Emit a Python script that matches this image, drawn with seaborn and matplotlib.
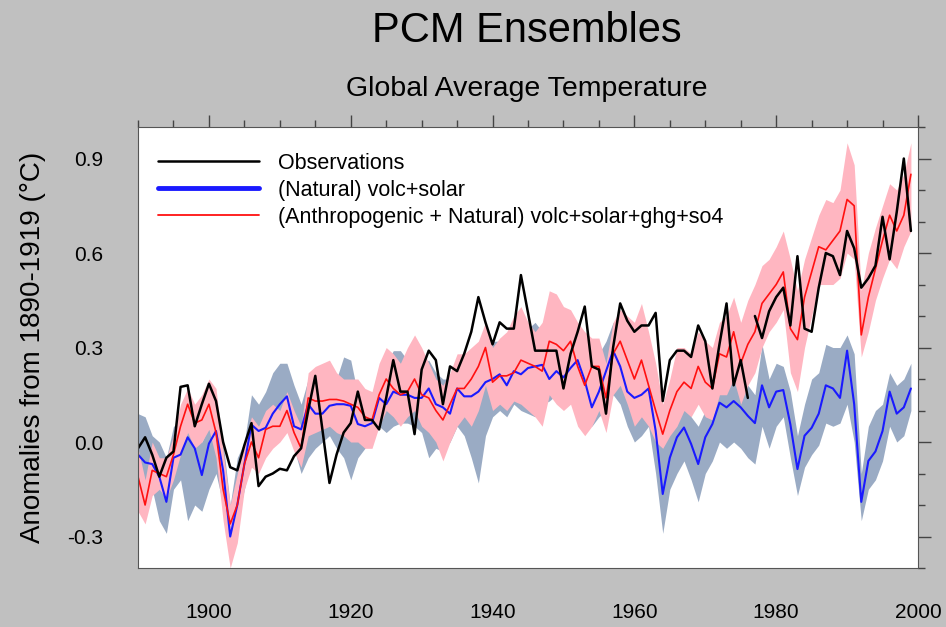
import numpy as np
import pandas as pd
import matplotlib
matplotlib.use("Agg")
import matplotlib.pyplot as plt
from matplotlib.lines import Line2D
from matplotlib.ticker import MultipleLocator
import seaborn as sns

years = list(range(1890, 2000))

observations = [
    -0.02, 0.015, -0.04, -0.11, -0.05, -0.03, 0.175, 0.18, 0.05, 0.12,
    0.185, 0.13, 0.0, -0.08, -0.09, -0.01, 0.06, -0.14, -0.11, -0.10,
    -0.085, -0.09, -0.045, -0.02, 0.10, 0.21, 0.04, -0.13, -0.04, 0.03,
    0.06, 0.16, 0.07, 0.07, 0.04, 0.14, 0.26, 0.16, 0.16, 0.025,
    0.23, 0.29, 0.26, 0.12, 0.24, 0.225, 0.28, 0.35, 0.46, 0.38,
    0.31, 0.38, 0.36, 0.36, 0.53, 0.41, 0.29, 0.29, 0.29, 0.29,
    0.17, 0.28, 0.35, 0.43, 0.24, 0.23, 0.09, 0.30, 0.44, 0.385,
    0.35, 0.37, 0.37, 0.41, 0.13, 0.26, 0.29, 0.29, 0.27, 0.37,
    0.32, 0.17, 0.31, 0.44, 0.18, 0.26, 0.14, 0.40, 0.33, 0.415,
    0.46, 0.49, 0.37, 0.59, 0.36, 0.35, 0.49, 0.60, 0.59, 0.53,
    0.67, 0.615, 0.49, 0.52, 0.56, 0.715, 0.58, 0.73, 0.90, 0.67,
]

natural_mean = [
    -0.04, -0.065, -0.07, -0.11, -0.19, -0.05, -0.04, 0.015, -0.02, -0.105,
    -0.005, 0.035, -0.09, -0.30, -0.20, -0.07, 0.055, 0.035, 0.045, 0.09,
    0.12, 0.145, 0.05, 0.04, 0.12, 0.09, 0.09, 0.115, 0.12, 0.12,
    0.115, 0.057, 0.05, 0.06, 0.14, 0.12, 0.16, 0.15, 0.15, 0.14,
    0.14, 0.17, 0.12, 0.11, 0.09, 0.17, 0.145, 0.145, 0.16, 0.19,
    0.20, 0.215, 0.18, 0.225, 0.215, 0.235, 0.24, 0.245, 0.20, 0.225,
    0.205, 0.235, 0.26, 0.195, 0.11, 0.16, 0.225, 0.29, 0.24, 0.16,
    0.14, 0.15, 0.17, 0.036, -0.165, -0.05, 0.015, 0.046, -0.006, -0.07,
    0.015, 0.057, 0.125, 0.11, 0.13, 0.11, 0.083, 0.06, 0.18, 0.11,
    0.16, 0.165, 0.056, -0.086, 0.02, 0.045, 0.09, 0.18, 0.17, 0.14,
    0.29, 0.12, -0.19, -0.06, -0.03, 0.035, 0.16, 0.09, 0.11, 0.17,
]

natural_low = [
    -0.15, -0.17, -0.15, -0.25, -0.29, -0.15, -0.12, -0.25, -0.20, -0.22,
    -0.15, -0.10, -0.20, -0.32, -0.25, -0.15, -0.05, -0.07, -0.02, 0.02,
    0.02, 0.05, -0.02, -0.10, -0.05, -0.02, 0.0, 0.02, -0.02, -0.05,
    -0.12, -0.05, -0.02, 0.0, 0.05, 0.03, 0.05, 0.06, 0.06, 0.05,
    0.03, -0.05, -0.02, -0.03, 0.0, 0.05, 0.02, -0.05, -0.13, 0.02,
    0.08, 0.10, 0.08, 0.12, 0.10, 0.09, 0.08, 0.12, 0.13, 0.15,
    0.12, 0.14, 0.13, 0.10, 0.05, 0.08, 0.10, 0.15, 0.12, 0.05,
    0.0, 0.02, 0.05, -0.10, -0.29, -0.15, -0.10, -0.06, -0.12, -0.19,
    -0.10, -0.06, 0.0, -0.02, 0.0, -0.02, -0.05, -0.07, 0.05, -0.02,
    0.05, 0.08, -0.05, -0.17, -0.08, -0.04, -0.01, 0.06, 0.05, 0.06,
    0.12, 0.0, -0.25, -0.15, -0.12, -0.06, 0.05, 0.0, 0.02, 0.10,
]

natural_high = [
    0.09, 0.08, 0.02, 0.0, -0.05, 0.05, 0.06, 0.06, 0.03, 0.0,
    0.05, 0.10, 0.0, -0.20, -0.05, 0.0, 0.15, 0.12, 0.16, 0.22,
    0.25, 0.25, 0.18, 0.12, 0.20, 0.20, 0.22, 0.20, 0.20, 0.27,
    0.26, 0.15, 0.12, 0.15, 0.24, 0.25, 0.29, 0.29, 0.26, 0.24,
    0.25, 0.26, 0.22, 0.20, 0.20, 0.25, 0.26, 0.28, 0.30, 0.33,
    0.32, 0.32, 0.30, 0.33, 0.34, 0.36, 0.38, 0.35, 0.30, 0.30,
    0.30, 0.32, 0.34, 0.30, 0.22, 0.28, 0.32, 0.38, 0.35, 0.30,
    0.28, 0.30, 0.33, 0.15, 0.0, 0.05, 0.10, 0.12, 0.08, 0.05,
    0.10, 0.15, 0.22, 0.20, 0.22, 0.20, 0.18, 0.15, 0.31, 0.20,
    0.25, 0.24, 0.16, 0.02, 0.12, 0.20, 0.22, 0.31, 0.30, 0.30,
    0.34, 0.28, -0.10, 0.05, 0.10, 0.12, 0.22, 0.18, 0.20, 0.25,
]

anthro_mean = [
    -0.11, -0.20, -0.09, -0.10, -0.11, -0.04, 0.05, 0.12, 0.06, 0.07,
    0.12, 0.03, -0.15, -0.26, -0.20, -0.07, 0.0, -0.05, 0.04, 0.05,
    0.05, 0.10, 0.03, -0.02, 0.14, 0.13, 0.13, 0.135, 0.135, 0.13,
    0.12, 0.11, 0.08, 0.07, 0.15, 0.20, 0.17, 0.15, 0.16, 0.20,
    0.15, 0.14, 0.10, 0.07, 0.12, 0.17, 0.17, 0.20, 0.24, 0.30,
    0.19, 0.21, 0.21, 0.22, 0.26, 0.25, 0.24, 0.225, 0.32, 0.31,
    0.29, 0.32, 0.24, 0.18, 0.24, 0.24, 0.14, 0.28, 0.32, 0.26,
    0.20, 0.26, 0.18, 0.10, 0.025, 0.10, 0.16, 0.19, 0.17, 0.24,
    0.19, 0.17, 0.28, 0.27, 0.35, 0.25, 0.31, 0.35, 0.44, 0.47,
    0.50, 0.54, 0.36, 0.325, 0.46, 0.54, 0.62, 0.61, 0.64, 0.67,
    0.77, 0.75, 0.34, 0.46, 0.55, 0.64, 0.72, 0.67, 0.72, 0.85,
]

anthro_low = [
    -0.22, -0.26, -0.17, -0.15, -0.18, -0.12, -0.04, 0.03, -0.02, 0.0,
    0.04, -0.05, -0.25, -0.40, -0.32, -0.15, -0.08, -0.10, -0.05, -0.02,
    0.0, 0.03, -0.03, -0.08, 0.02, 0.03, 0.04, 0.05, 0.03, 0.02,
    0.0, 0.0, -0.02, -0.02, 0.05, 0.10, 0.08, 0.05, 0.08, 0.10,
    0.05, 0.03, 0.0, -0.06, 0.0, 0.05, 0.08, 0.05, 0.10, 0.18,
    0.10, 0.12, 0.10, 0.13, 0.12, 0.10, 0.08, 0.05, 0.15, 0.12,
    0.10, 0.12, 0.05, 0.02, 0.05, 0.10, 0.03, 0.15, 0.18, 0.12,
    0.05, 0.08, 0.05, 0.0, -0.02, 0.02, 0.05, 0.10, 0.08, 0.12,
    0.08, 0.07, 0.15, 0.15, 0.20, 0.12, 0.18, 0.22, 0.30, 0.35,
    0.38, 0.42, 0.22, 0.16, 0.30, 0.40, 0.50, 0.50, 0.50, 0.52,
    0.60, 0.58, 0.27, 0.35, 0.45, 0.52, 0.58, 0.55, 0.62, 0.67,
]

anthro_high = [
    -0.02, -0.12, 0.0, -0.05, -0.05, 0.02, 0.12, 0.17, 0.12, 0.15,
    0.20, 0.17, -0.03, -0.20, -0.10, 0.0, 0.08, 0.05, 0.10, 0.12,
    0.10, 0.16, 0.10, 0.05, 0.22, 0.24, 0.25, 0.26, 0.22, 0.20,
    0.20, 0.20, 0.17, 0.16, 0.25, 0.30, 0.28, 0.25, 0.30, 0.34,
    0.30, 0.25, 0.20, 0.18, 0.22, 0.28, 0.28, 0.30, 0.32, 0.38,
    0.30, 0.33, 0.35, 0.40, 0.43, 0.38, 0.35, 0.38, 0.48, 0.47,
    0.43, 0.42, 0.38, 0.35, 0.33, 0.33, 0.25, 0.38, 0.42, 0.40,
    0.38, 0.44, 0.35, 0.25, 0.12, 0.20, 0.30, 0.30, 0.28, 0.35,
    0.32, 0.30, 0.38, 0.40, 0.46, 0.38, 0.45, 0.50, 0.56, 0.58,
    0.62, 0.67, 0.58, 0.48, 0.58, 0.65, 0.72, 0.77, 0.76, 0.80,
    0.95, 0.88, 0.48, 0.60, 0.68, 0.75, 0.82, 0.80, 0.85, 0.95,
]

# observations switch record after 1976 (no joining segment)
obs_break_year = 1977

df = pd.DataFrame({
    "year": years,
    "obs": observations,
    "nat": natural_mean,
    "nat_lo": natural_low,
    "nat_hi": natural_high,
    "ant": anthro_mean,
    "ant_lo": anthro_low,
    "ant_hi": anthro_high,
})

sns.set_theme(style="white")
plt.rcParams["font.family"] = ["Liberation Sans", "DejaVu Sans"]
plt.rcParams["text.color"] = "black"

bg = "#c0c0c0"
band_nat = "#9aabc4"
band_ant = "#ffb6c1"

fig = plt.figure(figsize=(9.46, 6.27), dpi=100, facecolor=bg)
ax = fig.add_axes([0.1459, 0.0941, 0.8245, 0.7033])
ax.set_facecolor("white")

ax.fill_between(df["year"], df["nat_lo"], df["nat_hi"], color=band_nat, lw=0)
ax.fill_between(df["year"], df["ant_lo"], df["ant_hi"], color=band_ant, lw=0)

sns.lineplot(data=df, x="year", y="nat", color="#1a1aff", lw=1.5, ax=ax)
sns.lineplot(data=df, x="year", y="ant", color="#ff1010", lw=1.2, ax=ax)
early = df[df["year"] < obs_break_year]
late = df[df["year"] >= obs_break_year]
sns.lineplot(data=early, x="year", y="obs", color="black", lw=1.8, ax=ax)
sns.lineplot(data=late, x="year", y="obs", color="black", lw=1.8, ax=ax)

ax.set_xlim(1890, 2000)
ax.set_ylim(-0.4, 1.0)
ax.xaxis.set_major_locator(MultipleLocator(20))
ax.xaxis.set_minor_locator(MultipleLocator(5))
ax.yaxis.set_minor_locator(MultipleLocator(0.1))
ax.set_yticks([-0.3, 0.0, 0.3, 0.6, 0.9])
ax.set_yticklabels(["-0.3", "0.0", "0.3", "0.6", "0.9"])
ax.tick_params(which="both", direction="out", top=True, right=True,
               labelsize=15, colors="#444444", labelcolor="black")
ax.tick_params(which="major", length=9, width=1)
ax.tick_params(which="minor", length=5, width=1)
ax.tick_params(axis="x", pad=16)
ax.tick_params(axis="y", pad=16)
for s in ax.spines.values():
    s.set_color("#555555")
    s.set_linewidth(0.8)

ax.set_xlabel("")
ax.set_ylabel("Anomalies from 1890-1919 (°C)", fontsize=20, labelpad=15,
              color="black")

handles = [
    Line2D([], [], color="black", lw=1.8),
    Line2D([], [], color="#1a1aff", lw=3.5),
    Line2D([], [], color="#ff1010", lw=1.3),
]
labels = [
    "Observations",
    "(Natural) volc+solar",
    "(Anthropogenic + Natural) volc+solar+ghg+so4",
]
ax.legend(handles, labels, loc="upper left", bbox_to_anchor=(0.026, 0.942),
          frameon=False, fontsize=15.5, handlelength=4.7, handletextpad=0.85,
          labelspacing=0.28, borderpad=0, borderaxespad=0)

fig.text(0.557, 0.951, "PCM Ensembles", ha="center", va="center", fontsize=30)
fig.text(0.557, 0.858, "Global Average Temperature", ha="center", va="center",
         fontsize=20.5)

fig.savefig("out.png", dpi=100, facecolor=bg)
